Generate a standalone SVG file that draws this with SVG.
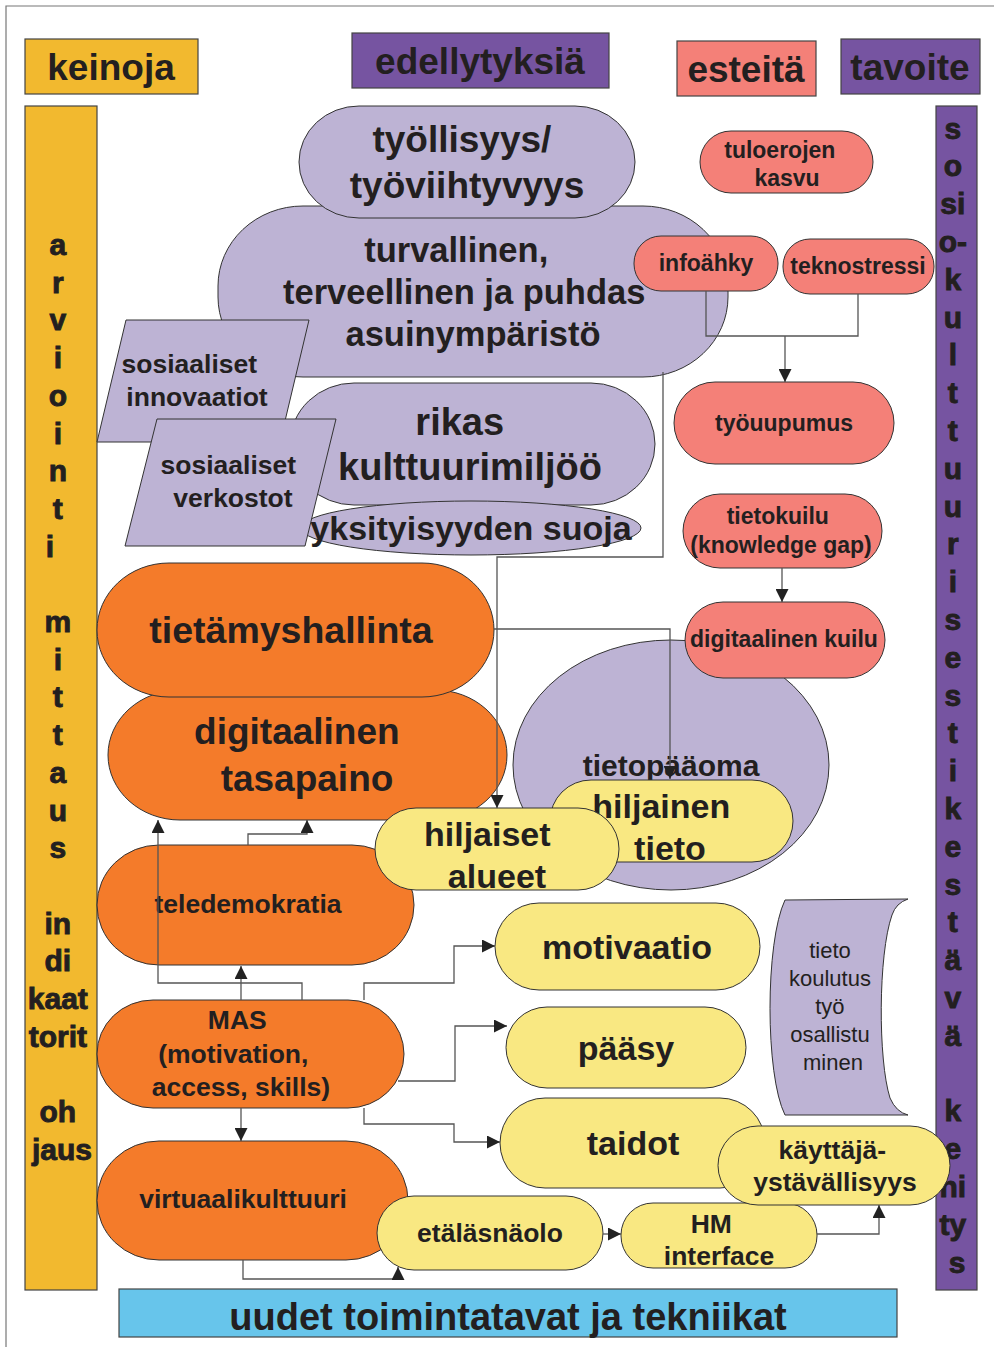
<svg xmlns="http://www.w3.org/2000/svg" width="994" height="1347" viewBox="0 0 994 1347">
  <style>
    .t { font-family: "Liberation Sans", Arial, sans-serif; font-weight: bold; fill: #231F20; text-anchor: middle; }
    .r { font-family: "Liberation Sans", Arial, sans-serif; font-weight: normal; fill: #231F20; text-anchor: middle; }
    .v { stroke: #231F20; stroke-width: 0.9; }
    .n { stroke: #333; stroke-width: 1; }
    .h { stroke: #444; stroke-width: 1.2; }
    .lav { fill: #BDB3D4; }
    .sal { fill: #F48078; }
    .org { fill: #F47B2A; }
    .yel { fill: #F9E882; }
    .gold { fill: #F2B92F; }
    .pur { fill: #7654A1; }
    .blu { fill: #67C5EB; }
    .c { fill: none; stroke: #555; stroke-width: 1.3; }
    .ca { fill: none; stroke: #555; stroke-width: 1.3; marker-end: url(#ah); }
  </style>
  <defs>
    <marker id="ah" viewBox="0 0 10 10" refX="10" refY="5" markerWidth="14" markerHeight="13" markerUnits="userSpaceOnUse" orient="auto">
      <path d="M0,0 L10,5 L0,10 z" fill="#222"/>
    </marker>
  </defs>

  <rect width="994" height="1347" fill="#fff"/>
  <!-- outer frame -->
  <path d="M6,1347 V6 H994" fill="none" stroke="#777" stroke-width="1.2"/>

  <!-- column headers -->
  <g id="hdr-keinoja">
    <rect class="gold h" x="25" y="39" width="173" height="55"/>
    <text class="t" x="111" y="80" font-size="37">keinoja</text>
  </g>
  <g id="hdr-edellytyksia">
    <rect class="pur h" x="352" y="33" width="257" height="55"/>
    <text class="t" x="480" y="74" font-size="37">edellytyksiä</text>
  </g>
  <g id="hdr-esteita">
    <rect class="sal h" x="677" y="41" width="139" height="55"/>
    <text class="t" x="746" y="82" font-size="37">esteitä</text>
  </g>
  <g id="hdr-tavoite">
    <rect class="pur h" x="841" y="39" width="139" height="55"/>
    <text class="t" x="910" y="80" font-size="37">tavoite</text>
  </g>

  <!-- left vertical bar -->
  <g id="bar-left">
    <rect class="gold h" x="25" y="106" width="72" height="1184"/>
    <text class="t v" font-size="30">
      <tspan x="62" y="255">a</tspan>
      <tspan x="62" y="292.7">r</tspan>
      <tspan x="62" y="330.4">v</tspan>
      <tspan x="62" y="368.1">i</tspan>
      <tspan x="62" y="405.8">o</tspan>
      <tspan x="62" y="443.5">i</tspan>
      <tspan x="62" y="481.2">n</tspan>
      <tspan x="62" y="518.9">t</tspan>
      <tspan x="54" y="556.6">i</tspan>
      <tspan x="62" y="632">m</tspan>
      <tspan x="62" y="669.7">i</tspan>
      <tspan x="62" y="707.4">t</tspan>
      <tspan x="62" y="745.1">t</tspan>
      <tspan x="62" y="782.8">a</tspan>
      <tspan x="62" y="820.5">u</tspan>
      <tspan x="62" y="858.2">s</tspan>
      <tspan x="62" y="933.6">in</tspan>
      <tspan x="62" y="971.3">di</tspan>
      <tspan x="62" y="1009">kaat</tspan>
      <tspan x="62" y="1046.7">torit</tspan>
      <tspan x="62" y="1122.1">oh</tspan>
      <tspan x="62" y="1159.8">jaus</tspan>
    </text>
  </g>

  <!-- right vertical bar -->
  <g id="bar-right">
    <rect class="pur h" x="936" y="106" width="41" height="1184"/>
    <text class="t v" font-size="30">
      <tspan x="957" y="138.5">s</tspan>
      <tspan x="957" y="176.3">o</tspan>
      <tspan x="957" y="214.1">si</tspan>
      <tspan x="957" y="251.9">o-</tspan>
      <tspan x="957" y="289.7">k</tspan>
      <tspan x="957" y="327.5">u</tspan>
      <tspan x="957" y="365.3">l</tspan>
      <tspan x="957" y="403.1">t</tspan>
      <tspan x="957" y="440.9">t</tspan>
      <tspan x="957" y="478.7">u</tspan>
      <tspan x="957" y="516.5">u</tspan>
      <tspan x="957" y="554.3">r</tspan>
      <tspan x="957" y="592.1">i</tspan>
      <tspan x="957" y="629.9">s</tspan>
      <tspan x="957" y="667.7">e</tspan>
      <tspan x="957" y="705.5">s</tspan>
      <tspan x="957" y="743.3">t</tspan>
      <tspan x="957" y="781.1">i</tspan>
      <tspan x="957" y="818.9">k</tspan>
      <tspan x="957" y="856.7">e</tspan>
      <tspan x="957" y="894.5">s</tspan>
      <tspan x="957" y="932.3">t</tspan>
      <tspan x="957" y="970.1">ä</tspan>
      <tspan x="957" y="1007.9">v</tspan>
      <tspan x="957" y="1045.7">ä</tspan>
      <tspan x="957" y="1121.3">k</tspan>
      <tspan x="957" y="1159.1">e</tspan>
      <tspan x="957" y="1196.9">ni</tspan>
      <tspan x="957" y="1234.7">ty</tspan>
      <tspan x="957" y="1272.5">s</tspan>
    </text>
  </g>

  <!-- preconditions (lavender) -->
  <g id="turvallinen">
    <rect class="lav n" x="218" y="206" width="510" height="171" rx="85" ry="80"/>
    <text class="t" font-size="34.5">
      <tspan x="461" y="262">turvallinen,</tspan>
      <tspan x="469" y="304">terveellinen ja puhdas</tspan>
      <tspan x="473" y="346">asuinympäristö</tspan>
    </text>
  </g>
  <g id="tyollisyys">
    <rect class="lav n" x="299" y="106" width="336" height="112" rx="60" ry="56"/>
    <text class="t" font-size="37">
      <tspan x="467" y="152">työllisyys/</tspan>
      <tspan x="467" y="198">työviihtyvyys</tspan>
    </text>
  </g>
  <g id="rikas">
    <rect class="lav n" x="290" y="383" width="365" height="122" rx="64" ry="61"/>
    <text class="t" font-size="38">
      <tspan x="465" y="435">rikas</tspan>
      <tspan x="470" y="480">kulttuurimiljöö</tspan>
    </text>
  </g>
  <g id="yksityisyys">
    <ellipse class="lav n" cx="471" cy="528" rx="170" ry="27"/>
    <text class="t" x="471" y="540" font-size="34">yksityisyyden suoja</text>
  </g>
  <g id="innovaatiot">
    <polygon class="lav n" points="126,320 309,320 280,442 97,442"/>
    <text class="t" font-size="26.5">
      <tspan x="193" y="373">sosiaaliset</tspan>
      <tspan x="197" y="406">innovaatiot</tspan>
    </text>
  </g>
  <g id="verkostot">
    <polygon class="lav n" points="157,419 336,419 305,546 125,546"/>
    <text class="t" font-size="26.5">
      <tspan x="232" y="474">sosiaaliset</tspan>
      <tspan x="233" y="507">verkostot</tspan>
    </text>
  </g>

  <!-- obstacles (salmon) -->
  <g id="tuloerojen">
    <rect class="sal n" x="700" y="131" width="173" height="62" rx="31"/>
    <text class="t" font-size="23">
      <tspan x="783" y="158">tuloerojen</tspan>
      <tspan x="787" y="186">kasvu</tspan>
    </text>
  </g>
  <g id="infoahky">
    <rect class="sal n" x="634" y="236" width="144" height="55" rx="27"/>
    <text class="t" x="706" y="271" font-size="23">infoähky</text>
  </g>
  <g id="teknostressi">
    <rect class="sal n" x="783" y="239" width="151" height="55" rx="27"/>
    <text class="t" x="858" y="274" font-size="23">teknostressi</text>
  </g>
  <g id="tyouupumus">
    <rect class="sal n" x="674" y="382" width="220" height="82" rx="41"/>
    <text class="t" x="784" y="431" font-size="23">työuupumus</text>
  </g>
  <g id="tietokuilu">
    <rect class="sal n" x="683" y="494" width="199" height="74" rx="37"/>
    <text class="t" font-size="23">
      <tspan x="781" y="524">tietokuilu</tspan>
      <tspan x="781" y="553">(knowledge gap)</tspan>
    </text>
  </g>

  <!-- knowledge capital -->
  <g id="tietopaaoma">
    <ellipse class="lav n" cx="671" cy="765" rx="158" ry="125"/>
    <text class="t" x="671" y="776" font-size="30">tietopääoma</text>
  </g>
  <g id="digitaalinen-kuilu">
    <rect class="sal n" x="685" y="602" width="200" height="76" rx="38"/>
    <text class="t" x="784" y="647" font-size="23">digitaalinen kuilu</text>
  </g>
  <g id="hiljainen-tieto">
    <rect class="yel n" x="550" y="780" width="243" height="82" rx="41"/>
    <text class="t" font-size="34">
      <tspan x="666" y="818">hiljainen</tspan>
      <tspan x="670" y="860">tieto</tspan>
    </text>
  </g>

  <!-- means (orange) -->
  <g id="digitaalinen-tasapaino">
    <rect class="org n" x="108" y="690" width="399" height="130" rx="72" ry="65"/>
    <text class="t" font-size="37">
      <tspan x="302" y="744">digitaalinen</tspan>
      <tspan x="307" y="791">tasapaino</tspan>
    </text>
  </g>
  <g id="tietamyshallinta">
    <rect class="org n" x="97" y="563" width="397" height="134" rx="72" ry="67"/>
    <text class="t" x="291" y="643" font-size="37.5">tietämyshallinta</text>
  </g>
  <g id="teledemokratia">
    <rect class="org n" x="97" y="845" width="317" height="120" rx="62" ry="60"/>
    <text class="t" x="248" y="913" font-size="26.5">teledemokratia</text>
  </g>
  <g id="hiljaiset-alueet">
    <rect class="yel n" x="375" y="808" width="244" height="82" rx="41"/>
    <text class="t" font-size="34">
      <tspan x="492" y="846">hiljaiset</tspan>
      <tspan x="497" y="888">alueet</tspan>
    </text>
  </g>
  <g id="mas">
    <rect class="org n" x="97" y="1000" width="307" height="108" rx="56" ry="54"/>
    <text class="t" font-size="26.5">
      <tspan x="241" y="1029">MAS</tspan>
      <tspan x="237" y="1063">(motivation,</tspan>
      <tspan x="241" y="1096">access, skills)</tspan>
    </text>
  </g>
  <g id="virtuaalikulttuuri">
    <rect class="org n" x="97" y="1141" width="311" height="119" rx="62" ry="60"/>
    <text class="t" x="243" y="1208" font-size="26.5">virtuaalikulttuuri</text>
  </g>

  <!-- MAS factors (yellow) -->
  <g id="motivaatio">
    <rect class="yel n" x="495" y="903" width="265" height="87" rx="44"/>
    <text class="t" x="627" y="959" font-size="34">motivaatio</text>
  </g>
  <g id="paasy">
    <rect class="yel n" x="506" y="1007" width="240" height="81" rx="41"/>
    <text class="t" x="626" y="1060" font-size="34">pääsy</text>
  </g>
  <g id="taidot">
    <rect class="yel n" x="500" y="1098" width="265" height="90" rx="45"/>
    <text class="t" x="633" y="1155" font-size="34">taidot</text>
  </g>
  <g id="tieto-koulutus">
    <path class="lav n" d="M785,900 L908,899 Q896,903 892,915 C878,955 878,1060 890,1098 Q896,1112 908,1115 L785,1115 C765,1075 765,942 785,900 Z"/>
    <text class="r" font-size="22">
      <tspan x="833" y="958">tieto</tspan>
      <tspan x="833" y="986">koulutus</tspan>
      <tspan x="833" y="1014">työ</tspan>
      <tspan x="833" y="1042">osallistu</tspan>
      <tspan x="833" y="1070">minen</tspan>
    </text>
  </g>
  <g id="etalasnaolo">
    <rect class="yel n" x="377" y="1196" width="226" height="74" rx="37"/>
    <text class="t" x="490" y="1242" font-size="26.5">etäläsnäolo</text>
  </g>
  <g id="hm-interface">
    <rect class="yel n" x="621" y="1203" width="196" height="65" rx="32"/>
    <text class="t" font-size="26.5">
      <tspan x="715" y="1233">HM</tspan>
      <tspan x="719" y="1265">interface</tspan>
    </text>
  </g>
  <g id="kayttajaystavallisyys">
    <rect class="yel n" x="718" y="1126" width="232" height="79" rx="40"/>
    <text class="t" font-size="26.5">
      <tspan x="836" y="1159">käyttäjä-</tspan>
      <tspan x="835" y="1191">ystävällisyys</tspan>
    </text>
  </g>

  <!-- bottom band -->
  <g id="uudet-toimintatavat">
    <rect class="blu h" x="119" y="1289" width="778" height="48"/>
    <text class="t" x="508" y="1330" font-size="38">uudet toimintatavat ja tekniikat</text>
  </g>

  <!-- connectors -->
  <g id="connectors">
    <path class="c" d="M706,291 V336 H858 V294"/>
    <path class="ca" d="M785,336 V382"/>
    <path class="ca" d="M782,568 V602"/>
    <path class="ca" d="M663,372 V557 H497 V808"/>
    <path class="ca" d="M494,629 H670 V779"/>
    <path class="ca" d="M248,845 V834 H307 V820"/>
    <path class="ca" d="M302,1000 V983 H158 V820"/>
    <path class="ca" d="M241,1000 V966"/>
    <path class="ca" d="M364,1000 V983 H454 V946 H495"/>
    <path class="ca" d="M398,1081 H455 V1026 H507"/>
    <path class="ca" d="M364,1108 V1124 H454 V1142 H500"/>
    <path class="ca" d="M241,1108 V1141"/>
    <path class="ca" d="M243,1260 V1279 H398 V1267"/>
    <path class="ca" d="M603,1234 H621"/>
    <path class="ca" d="M817,1234 H879 V1205"/>
  </g>
</svg>
